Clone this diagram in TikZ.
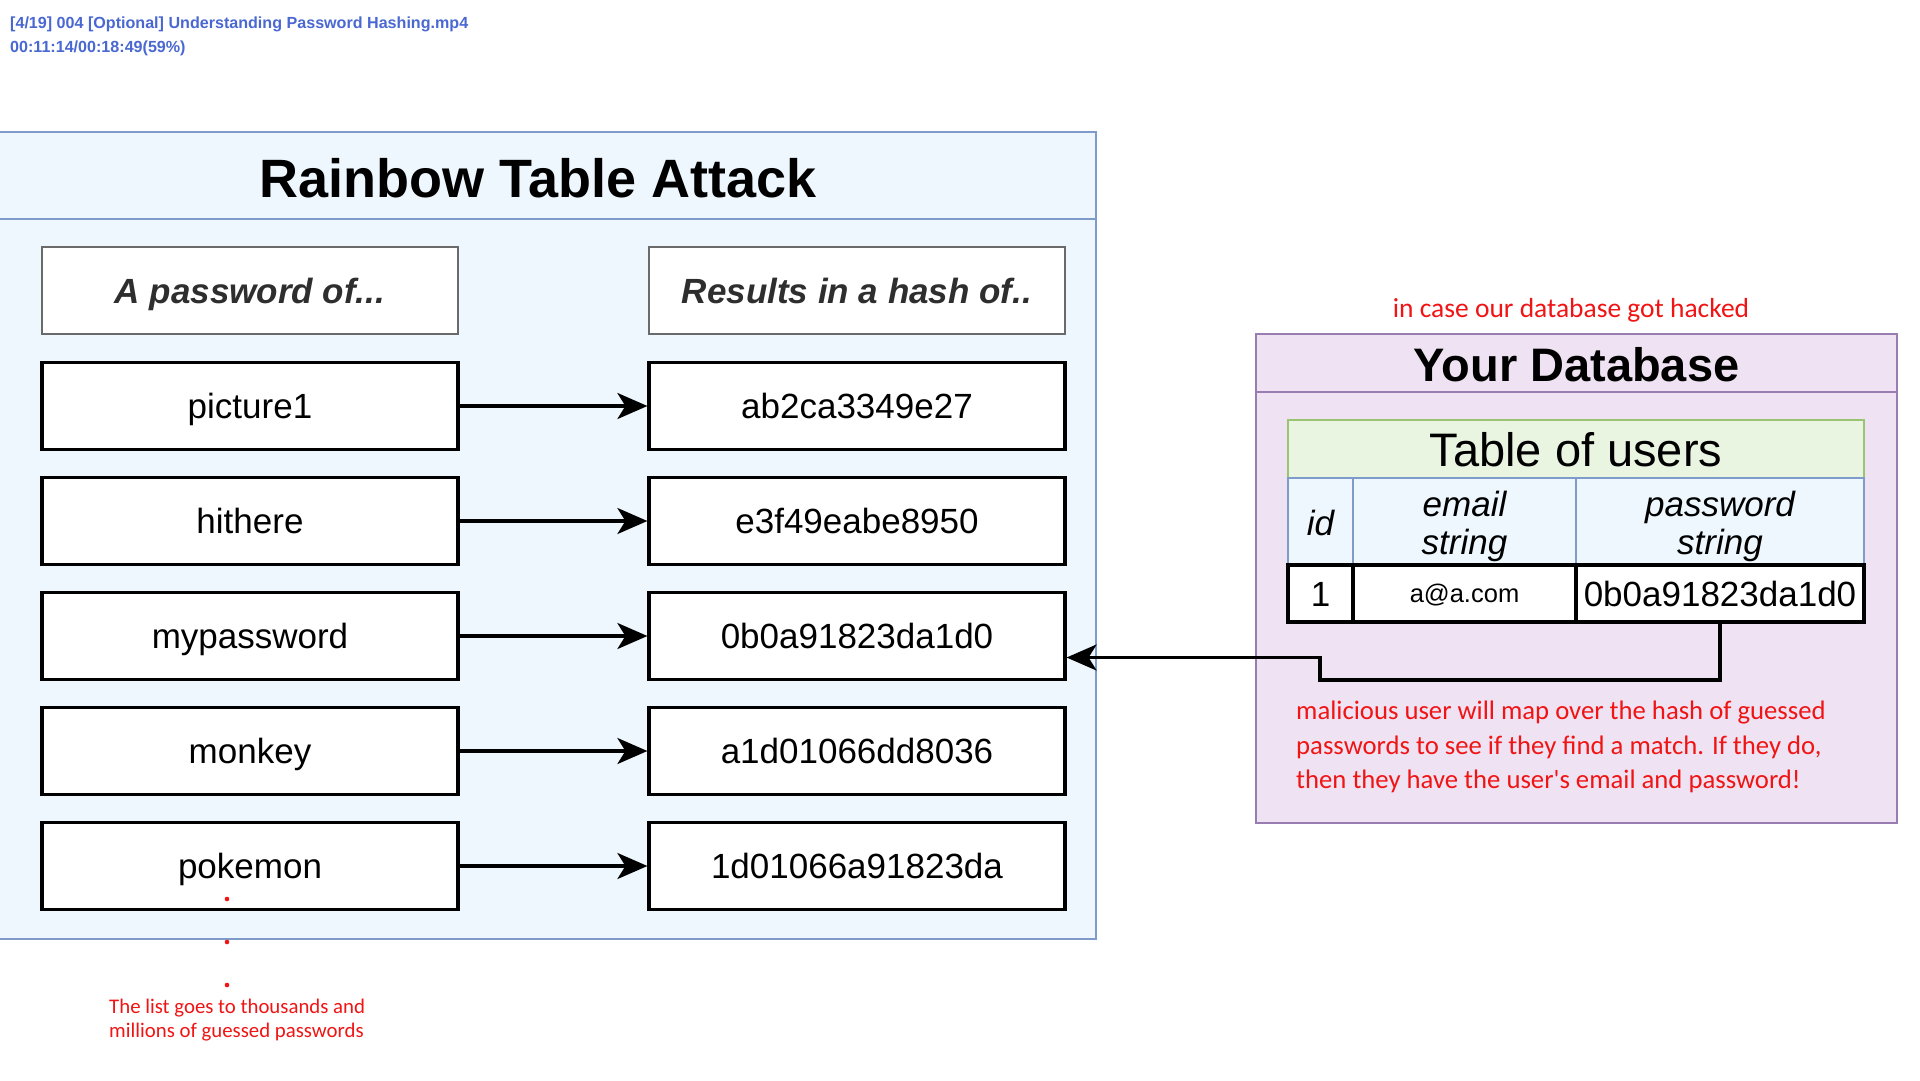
\documentclass[tikz,border=0pt]{standalone}
\usepackage{fontspec}
\setmainfont{Liberation Sans}
\newfontfamily\calib{Carlito}
\usetikzlibrary{arrows.meta,calc}
\definecolor{panelblue}{HTML}{EDF7FD}
\definecolor{panelborder}{HTML}{7E9BC9}
\definecolor{purplefill}{HTML}{EFE3F3}
\definecolor{purpleborder}{HTML}{9A7DB0}
\definecolor{greenfill}{HTML}{EAF5E1}
\definecolor{greenborder}{HTML}{9BC472}
\definecolor{hdrgray}{HTML}{6A6A6A}
\definecolor{hdrtext}{HTML}{2E2E2E}
\definecolor{notered}{HTML}{F01414}
\definecolor{overlayblue}{HTML}{4A68D2}
\begin{document}
\begin{tikzpicture}[x=1pt,y=-1pt,
  rowbox/.style={draw=black, line width=3.2pt, fill=white, minimum width=416pt, minimum height=87pt, inner sep=0pt, text height=25pt, text depth=0pt, font=\fontsize{35}{40}\selectfont},
  hdrbox/.style={draw=hdrgray, line width=2.5pt, fill=white, minimum width=416pt, minimum height=87pt, inner sep=0pt, text height=25pt, text depth=0pt, text=hdrtext, font=\fontsize{35}{40}\selectfont\bfseries\itshape},
  link/.style={line width=3.2pt, -{Stealth[length=30pt,width=26pt,inset=8pt]}},
  hcell/.style={draw=panelborder, line width=2.5pt, fill=panelblue, minimum height=87pt, inner sep=0pt},
  hlabel/.style={inner sep=0pt, align=center, font=\fontsize{35}{38}\selectfont\itshape},
  dcell/.style={draw=black, line width=3.2pt, fill=white, minimum height=57pt, inner sep=0pt},
  redtext/.style={text=notered, inner sep=0pt, align=left},
]
\useasboundingbox (0,0) rectangle (1920,1080);
\fill[white] (0,0) rectangle (1920,1080);

% overlay text
\node[anchor=west, inner sep=0pt, align=left, text=overlayblue, font=\fontsize{16.1}{24}\selectfont\bfseries] (ovl) at (10,36) {[4/19] 004 [Optional] Understanding Password Hashing.mp4\\00:11:14/00:18:49(59\%)};

% left panel
\fill[panelblue] (0,132) rectangle (1096,939);
\draw[panelborder, line width=2.5pt] (0,132) -- (1096,132) -- (1096,939) -- (0,939);
\draw[panelborder, line width=2.5pt] (0,219) -- (1096,219);
\node[font=\fontsize{54}{60}\selectfont\bfseries] (rta) at (538,178) {Rainbow Table Attack};

\node[hdrbox] (hl) at (250,290.5) {A password of...};
\node[hdrbox] (hr) at (857,290.5) {Results in a hash of..};

\node[rowbox] (p1) at (250,406) {picture1};
\node[rowbox] (p2) at (250,521) {hithere};
\node[rowbox] (p3) at (250,636) {mypassword};
\node[rowbox] (p4) at (250,751) {monkey};
\node[rowbox] (p5) at (250,866) {pokemon};
\node[rowbox] (h1) at (857,406) {ab2ca3349e27};
\node[rowbox] (h2) at (857,521) {e3f49eabe8950};
\node[rowbox] (h3) at (857,636) {0b0a91823da1d0};
\node[rowbox] (h4) at (857,751) {a1d01066dd8036};
\node[rowbox] (h5) at (857,866) {1d01066a91823da};
\foreach \i in {1,...,5} {\draw[link] (p\i.east) -- (h\i.west);}

% dots and note
\fill[notered] (227,899) circle (2.3pt);
\fill[notered] (227,942) circle (2.3pt);
\fill[notered] (227,985) circle (2.3pt);
\node[redtext, anchor=west, font=\calib\fontsize{20.8}{24}\selectfont] (listnote) at (109,1020) {The list goes to thousands and\\millions of guessed passwords};

% database panel
\draw[fill=purplefill, draw=purpleborder, line width=2.5pt] (1256,334) rectangle (1897,823);
\draw[purpleborder, line width=2.5pt] (1256,392) -- (1897,392);
\node[font=\fontsize{47}{52}\selectfont\bfseries] (ydb) at (1576.5,365) {Your Database};
\node[redtext, font=\calib\fontsize{27.5}{32}\selectfont] (hacked) at (1571,310.5) {in case our database got hacked};

\node[draw=greenborder, fill=greenfill, line width=2.5pt, minimum width=576pt, minimum height=58pt, inner sep=0pt, text height=34pt, text depth=0pt, font=\fontsize{47}{52}\selectfont] (tbl) at (1576,449) {Table of users};
\node[hcell, minimum width=65pt] (hid) at (1320.5,521.5) {};
\node[hcell, minimum width=223pt] (hemail) at (1464.5,521.5) {};
\node[hcell, minimum width=288pt] (hpwd) at (1720,521.5) {};
\node[hlabel] (lid) at ($(hid)+(0,1)$) {id};
\node[hlabel] (lemail) at ($(hemail)+(0,5)$) {email\\string};
\node[hlabel] (lpwd) at ($(hpwd)+(0,5)$) {password\\string};
\node[dcell, minimum width=65pt, text height=25pt, text depth=0pt, font=\fontsize{35}{40}\selectfont] (did) at (1320.5,593.5) {1};
\node[dcell, minimum width=223pt, text height=18pt, text depth=0pt, font=\fontsize{25.5}{30}\selectfont] (demail) at (1464.5,593.5) {a@a.com};
\node[dcell, minimum width=288pt, text height=25pt, text depth=0pt, font=\fontsize{35}{40}\selectfont] (dpwd) at (1720,593.5) {0b0a91823da1d0};

\coordinate (k1) at (1720,680);
\coordinate (k2) at (1320,680);
\coordinate (k3) at (1320,657.5);
\coordinate (tgt) at ($(h3.east)+(0,21.5)$);
\draw[link] (dpwd.south) -- (k1) -- (k2) -- (k3) -- (tgt);

\node[redtext, anchor=west, font=\calib\fontsize{26.7}{34.3}\selectfont] (malice) at (1296,747) {malicious user will map over the hash of guessed\\passwords to see if they find a match. If they do,\\then they have the user's email and password!};
\end{tikzpicture}
\end{document}
